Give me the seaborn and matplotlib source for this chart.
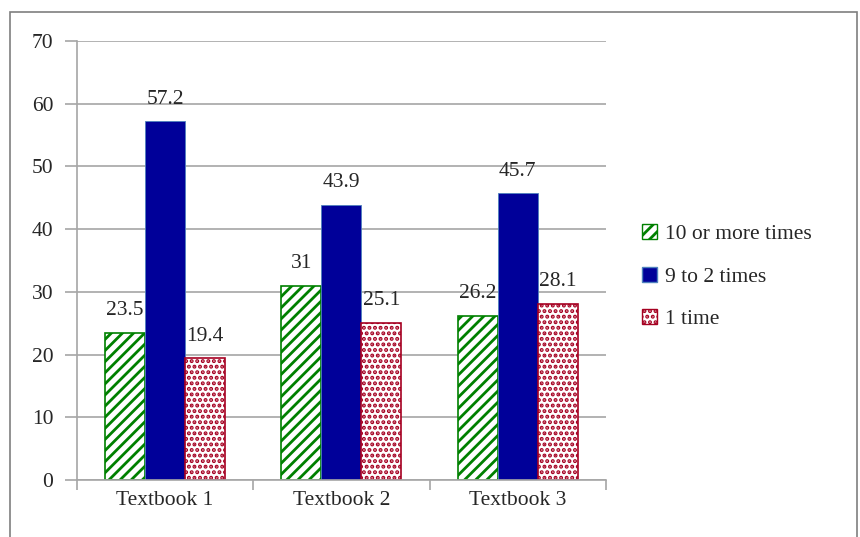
import matplotlib
matplotlib.use("Agg")
import matplotlib.pyplot as plt
import matplotlib.patches as mpatches
import seaborn as sns
import pandas as pd

# data
textbooks = ["Textbook 1", "Textbook 2", "Textbook 3"]
series = ["10 or more times", "9 to 2 times", "1 time"]
ten_or_more = [23.5, 31, 26.2]
nine_to_two = [57.2, 43.9, 45.7]
one_time = [19.4, 25.1, 28.1]

colors = ["#008000", "#000099", "#A50021"]
hatches = ["///", "", "..."]

df = pd.DataFrame({
    "book": textbooks * 3,
    "freq": [series[0]] * 3 + [series[1]] * 3 + [series[2]] * 3,
    "value": ten_or_more + nine_to_two + one_time,
})

sns.set_style("white")
plt.rcParams['font.family'] = ['Liberation Serif', 'DejaVu Serif']
plt.rcParams['hatch.linewidth'] = 2.0

fs = 15.5

fig = plt.figure(figsize=(8.6, 5.37), dpi=100)
ax = fig.add_axes([0.0895, 0.106, 0.615, 0.818])

sns.barplot(data=df, x="book", y="value", hue="freq", hue_order=series,
            order=textbooks, width=0.68, gap=0, ax=ax, legend=False,
            palette=["white", "#000099", "white"], saturation=1, errorbar=None)

for i, cont in enumerate(ax.containers):
    for bar in cont:
        if i == 1:
            bar.set_facecolor(colors[1])
            bar.set_edgecolor("#4f81bd")
            bar.set_linewidth(0.6)
        else:
            bar.set_facecolor("white")
            bar.set_edgecolor(colors[i])
            bar.set_hatch(hatches[i])
            bar.set_linewidth(1.2)
    ax.bar_label(cont, fmt="%g", padding=9, fontsize=fs)

ax.set_ylim(0, 70)
ax.set_xlim(-0.5, 2.5)
ax.set_yticks(range(0, 71, 10))
ax.yaxis.grid(True, color="#a6a6a6", linewidth=1.2)
ax.set_axisbelow(True)
ax.set_xlabel("")
ax.set_ylabel("")
ax.tick_params(axis="y", left=True, labelsize=fs, length=9, width=1.2,
               color="#a6a6a6", pad=8)
ax.tick_params(axis="x", labelsize=fs, length=0, pad=8)
ax.set_xticks([-0.5, 0.5, 1.5, 2.5], minor=True)
ax.tick_params(axis="x", which="minor", bottom=True, length=7, width=1.2,
               color="#a6a6a6")
for s in ["top", "right"]:
    ax.spines[s].set_visible(False)
for s in ["left", "bottom"]:
    ax.spines[s].set_color("#a6a6a6")
    ax.spines[s].set_linewidth(1.2)

handles = []
for i in range(3):
    if i == 1:
        handles.append(mpatches.Patch(facecolor=colors[1], edgecolor="#4f81bd", label=series[i]))
    else:
        handles.append(mpatches.Patch(facecolor="white", edgecolor=colors[i],
                                      hatch=hatches[i], label=series[i]))
fig.legend(handles=handles, loc="center left", bbox_to_anchor=(0.746, 0.485),
           frameon=False, fontsize=fs, handlelength=0.7, handleheight=0.7,
           handletextpad=0.4, labelspacing=1.05, borderpad=0, borderaxespad=0)

fig.patches.append(mpatches.Rectangle((0.012, -0.01), 0.985, 0.988,
                                      transform=fig.transFigure, fill=False,
                                      edgecolor="#7f7f7f", linewidth=1.2))

fig.savefig("out.png", dpi=100)
